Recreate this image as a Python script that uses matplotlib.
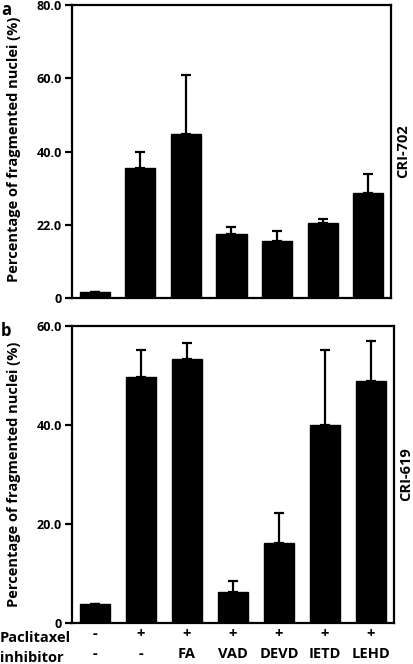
import matplotlib
matplotlib.use('Agg')
import matplotlib.pyplot as plt

# data
paclitaxel = ['-', '+', '+', '+', '+', '+', '+']
inhibitor = ['-', '-', 'FA', 'VAD', 'DEVD', 'IETD', 'LEHD']

cri702_mean = [1.6, 35.5, 44.8, 17.5, 15.5, 20.6, 28.7]
cri702_err = [0.0, 4.5, 16.2, 2.0, 2.9, 1.0, 5.3]

cri619_mean = [3.8, 49.6, 53.3, 6.3, 16.1, 40.0, 48.8]
cri619_err = [0.0, 5.6, 3.3, 2.2, 6.2, 15.2, 8.2]

yticks_a = [0, 20, 40, 60, 80]
yticklabels_a = ['0', '22.0', '40.0', '60.0', '80.0']
yticks_b = [0, 20, 40, 60]
yticklabels_b = ['0', '20.0', '40.0', '60.0']

plt.rcParams['font.family'] = ['Open Sans', 'DejaVu Sans']
plt.rcParams['font.weight'] = 'bold'

fig = plt.figure(figsize=(4.13, 6.64), dpi=100)
ax1 = fig.add_axes([0.174, 0.551, 0.773, 0.4415])
ax2 = fig.add_axes([0.174, 0.062, 0.780, 0.447])

x = list(range(len(inhibitor)))


def draw(ax, means, errs, ymax, ticks, labels, name):
    ax.bar(x, means, width=0.66, color='black', edgecolor='black', zorder=2)
    ax.errorbar(x, means, yerr=[[0] * len(errs), errs], fmt='none',
                ecolor='black', elinewidth=1.6, capsize=3.5, capthick=1.6,
                zorder=1)
    ax.set_xlim(-0.5, 6.5)
    ax.set_ylim(0, ymax)
    ax.set_yticks(ticks)
    ax.set_yticklabels(labels, fontsize=9, fontweight='bold')
    ax.set_xticks([])
    for s in ax.spines.values():
        s.set_linewidth(1.6)
    ax.tick_params(axis='y', direction='out', length=5, width=1.6, pad=2)
    ax.text(1.037, 0.5, name, transform=ax.transAxes, rotation=90,
            ha='center', va='center', fontsize=10.5, fontweight='bold')


draw(ax1, cri702_mean, cri702_err, 80, yticks_a, yticklabels_a, 'CRI-702')
draw(ax2, cri619_mean, cri619_err, 60, yticks_b, yticklabels_b, 'CRI-619')

ylab = 'Percentage of fragmented nuclei (%)'
fig.text(0.034, 0.775, ylab, rotation=90, ha='center', va='center',
         fontsize=10.5, fontweight='bold')
fig.text(0.034, 0.286, ylab, rotation=90, ha='center', va='center',
         fontsize=10.5, fontweight='bold')

fig.text(0.003, 0.998, 'a', fontsize=12, fontweight='bold', va='top')
fig.text(0.003, 0.515, 'b', fontsize=12, fontweight='bold', va='top')

# condition rows under the lower panel
fig.text(0.0, 0.039, 'Paclitaxel', fontsize=10.5, fontweight='bold', va='center')
fig.text(0.0, 0.009, 'inhibitor', fontsize=10.5, fontweight='bold', va='center')
for i in x:
    ax2.text(i, -0.039, paclitaxel[i], transform=ax2.get_xaxis_transform(),
             ha='center', va='center', fontsize=10.5, fontweight='bold')
    ax2.text(i, -0.106, inhibitor[i], transform=ax2.get_xaxis_transform(),
             ha='center', va='center', fontsize=10.5, fontweight='bold')

fig.savefig('out.png', dpi=100)
